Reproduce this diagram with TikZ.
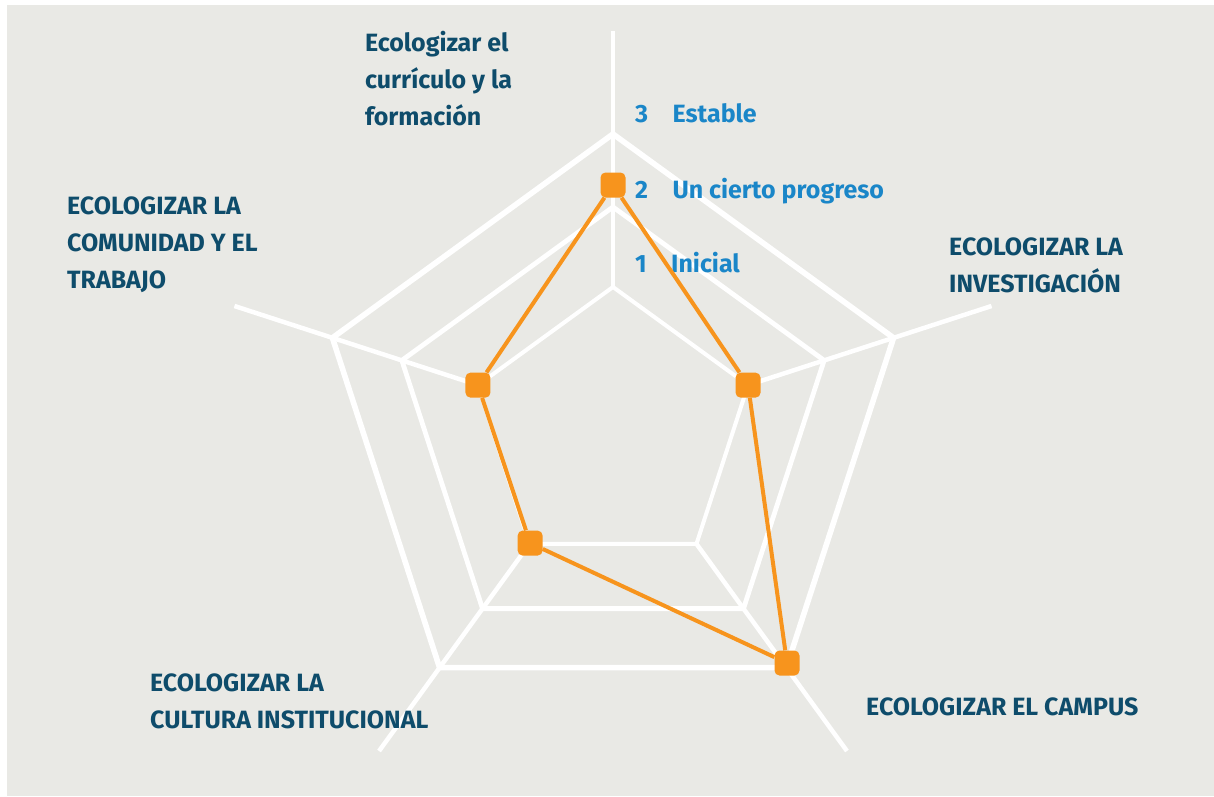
\documentclass[tikz,border=0pt]{standalone}
\usepackage{fontspec}
\setmainfont{Fira Sans}
\usetikzlibrary{positioning}
\definecolor{bggrey}{HTML}{E9E9E5}
\definecolor{labelblue}{HTML}{0E4C6B}
\definecolor{scaleblue}{HTML}{1A86C8}
\definecolor{dataorange}{HTML}{F7941D}
\begin{document}
\begin{tikzpicture}[x=1pt,y=1pt,
		grid/.style={draw=white,line width=#1},
		axislabel/.style={font=\bfseries\fontsize{25}{37}\selectfont,text=labelblue,align=left,anchor=base west,inner sep=0pt},
		scalelabel/.style={font=\bfseries\fontsize{25}{37}\selectfont,text=scaleblue,inner sep=0pt},
		datapt/.style={fill=dataorange,rounded corners=5pt,minimum size=25pt,inner sep=0pt},
		dataline/.style={draw=dataorange,line width=4pt}]
	\fill[bggrey] (-606,424) rectangle (601,-367);
	\useasboundingbox (-613,429) rectangle (601,-367);
	% levels 1, 2, 3
	\foreach \r/\w in {142/4pt,222/4.8pt,295/5.6pt}
		\draw[grid=\w] (90:\r) -- (18:\r) -- (-54:\r) -- (-126:\r) -- (162:\r) -- cycle;
	\foreach \a in {90,18,-54,-126,162}
		\draw[grid=4.5pt] (\a:142) -- (\a:398);
	% scale
	\foreach \n/\t/\y in {3/Estable/306,2/Un cierto progreso/231,1/Inicial/157}{
		\node[scalelabel,anchor=base west] (n\n) at (22,\y) {\n};
		\node[scalelabel,base right=24pt of n\n] (t\n) {\t};
	}
	% data
	\node[datapt] (curr) at (90:244) {};
	\node[datapt] (inv) at (18:142) {};
	\node[datapt] (camp) at (174,-234) {};
	\node[datapt] (cult) at (-126:141) {};
	\node[datapt] (com) at (162:142) {};
	\draw[dataline] (curr) -- (inv) -- (camp) -- (cult) -- (com) -- (curr);
	% axis labels (base = last line)
	\node[axislabel] (lcurr) at (-248,304) {Ecologizar el\\currículo y la\\formación};
	\node[axislabel] (lcom) at (-546,141) {ECOLOGIZAR LA\\COMUNIDAD Y EL\\TRABAJO};
	\node[axislabel] (linv) at (336,137) {ECOLOGIZAR LA\\INVESTIGACIÓN};
	\node[axislabel] (lcult) at (-463,-299) {ECOLOGIZAR LA\\CULTURA INSTITUCIONAL};
	\node[axislabel] (lcamp) at (253,-286) {ECOLOGIZAR EL CAMPUS};
\end{tikzpicture}
\end{document}
